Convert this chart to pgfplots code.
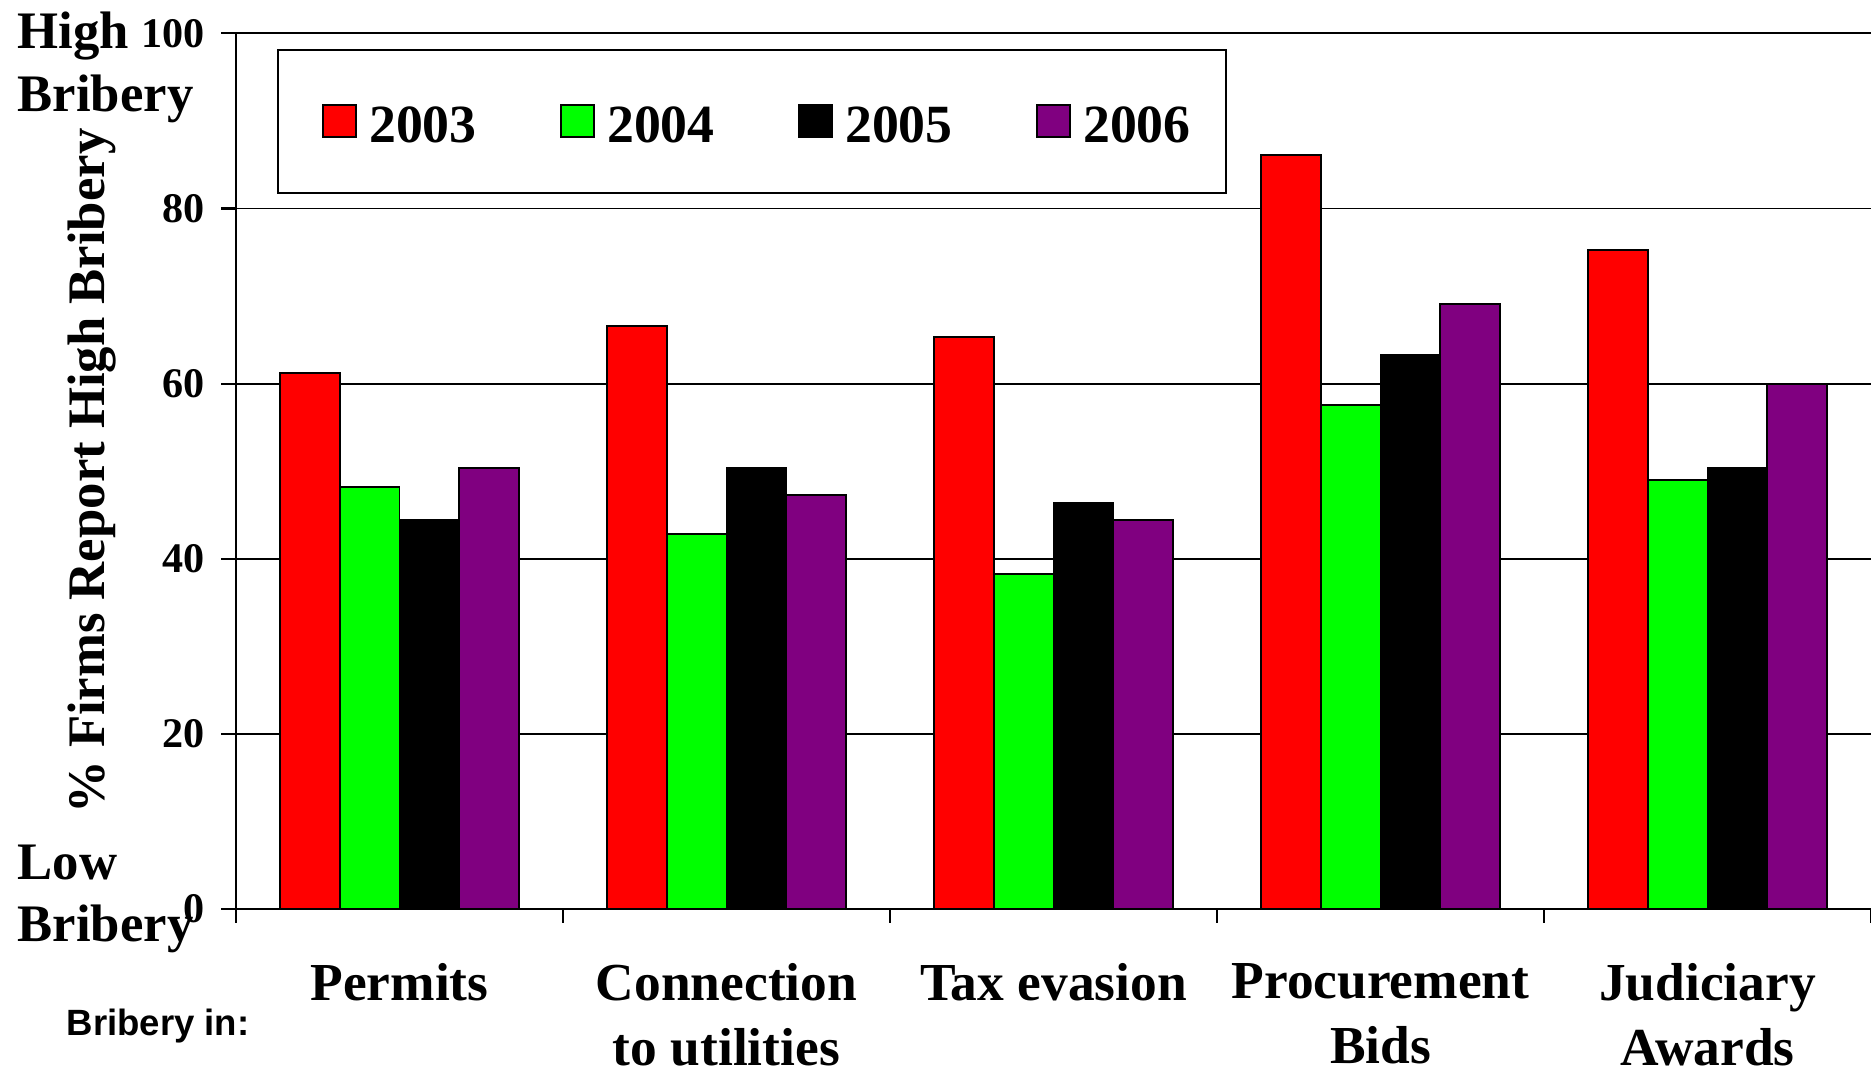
\documentclass[border=0pt]{standalone}
\usepackage{fontspec}
\setmainfont{Liberation Serif}
\newfontfamily\arialfont{Liberation Sans}
\usepackage{pgfplots}
\pgfplotsset{compat=1.18}
\definecolor{barred}{RGB}{255,0,0}
\definecolor{bargreen}{RGB}{0,255,0}
\definecolor{barpurple}{RGB}{128,0,128}
\newcommand{\bigf}{\bfseries\fontsize{15}{18}\selectfont}
\newcommand{\catf}{\bfseries\fontsize{15.2}{18.4}\selectfont}
\begin{document}
\begin{tikzpicture}
\useasboundingbox (0mm,0mm) rectangle (187.1mm,107.2mm);
\begin{axis}[
  at={(23.6mm,16.3mm)}, anchor=south west,
  scale only axis, width=163.5mm, height=87.56mm,
  xmin=-0.5, xmax=4.5, ymin=0, ymax=100,
  axis x line=bottom, axis y line=left,
  axis line style={line width=0.6pt, -},
  tick align=outside,
  ytick={0,20,40,60,80,100},
  ymajorgrids, grid style={black, line width=0.55pt},
  major tick length=1.5mm,
  tick style={black, line width=0.6pt},
  xtick={0,1,2,3,4},
  xticklabels={Permits, Connection\\to utilities, Tax evasion, Procurement\\Bids, Judiciary\\Awards},
  major x tick style={draw=none},
  minor xtick={-0.5,0.5,1.5,2.5,3.5,4.5},
  minor tick length=1.4mm,
  xticklabel style={align=center, font=\catf, anchor=north, yshift=-3.9mm, inner sep=0pt},
  yticklabel style={font=\bfseries\fontsize{12}{14}\selectfont, inner sep=0pt, xshift=-1.6mm},
  /pgf/number format/assume math mode=true,
  ylabel={\% Firms Report High Bribery},
  ylabel style={font=\bigf, at={(axis description cs:-0.088,0.5)}, anchor=center},
  ybar, bar width=0.1826,
  legend image code/.code={\path (-1.19mm,0mm); \draw[#1, draw=black, line width=0.5pt] (0mm,-1.5mm) rectangle (3.26mm,1.67mm);},
  legend columns=4,
  legend style={at={(0.025,0.982)}, anchor=north west, draw=black, line width=0.6pt,
    font=\bfseries\fontsize{15.3}{18}\selectfont, inner xsep=3.25mm, inner ysep=4.6mm,
    /tikz/every even column/.append style={column sep=6.87mm},
    /tikz/every odd column/.append style={column sep=0.95mm},
    nodes={inner xsep=0.3mm, inner ysep=0.5mm, text height=4.1mm, text depth=0mm}},
  clip=false,
]
\addplot[fill=barred, draw=black, line width=0.5pt, bar shift=-0.2739] coordinates {(0,61.2) (1,66.6) (2,65.3) (3,86.1) (4,75.3)};
\addplot[fill=bargreen, draw=black, line width=0.5pt, bar shift=-0.0913] coordinates {(0,48.2) (1,42.8) (2,38.3) (3,57.6) (4,49.0)};
\addplot[fill=black, draw=black, line width=0.5pt, bar shift=0.0913] coordinates {(0,44.4) (1,50.4) (2,46.4) (3,63.3) (4,50.4)};
\addplot[fill=barpurple, draw=black, line width=0.5pt, bar shift=0.2739] coordinates {(0,50.4) (1,47.3) (2,44.4) (3,69.1) (4,60.0)};
\legend{2003,2004,2005,2006}
\end{axis}
\node[anchor=base west, font=\bigf, inner sep=0pt] at (1.7mm,102.3mm) {High};
\node[anchor=base west, font=\bigf, inner sep=0pt] at (1.7mm,96.0mm) {Bribery};
\node[anchor=base west, font=\bigf, inner sep=0pt] at (1.7mm,19.2mm) {Low};
\node[anchor=base west, font=\bigf, inner sep=0pt] at (1.7mm,13.0mm) {Bribery};
\node[anchor=base west, font=\arialfont\bfseries\fontsize{10.4}{12}\selectfont, inner sep=0pt] at (6.6mm,3.6mm) {Bribery in:};
\end{tikzpicture}
\end{document}
